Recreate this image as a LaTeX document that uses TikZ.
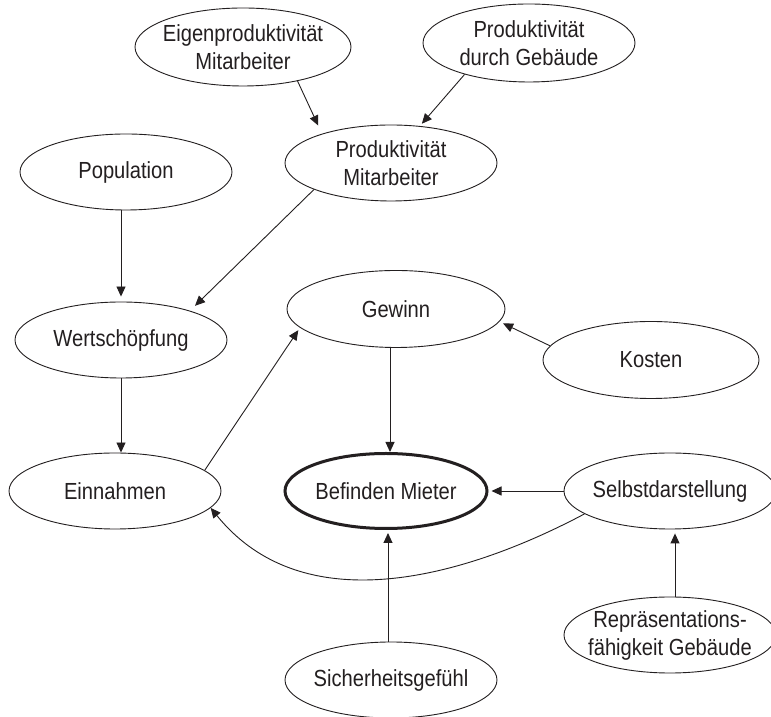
\documentclass[tikz,border=0pt]{standalone}
\usepackage{fontspec}
\setmainfont{Liberation Sans}[FakeStretch=0.865]
\usetikzlibrary{shapes.geometric,arrows.meta,calc}
\definecolor{ink}{HTML}{231F20}
\begin{document}
\begin{tikzpicture}[x=1pt,y=1pt,
  factor/.style={ellipse, draw=ink, line width=0.9pt, inner xsep=-15pt, inner ysep=0pt,
    minimum width=212pt, minimum height=76pt, align=center, text=ink,
    font=\fontsize{23.3}{28}\selectfont},
  core/.style={factor, line width=3pt, minimum width=202pt, minimum height=75pt},
  link/.style={draw=ink, line width=0.9pt, -{Triangle[length=10pt,width=9pt]}}]
\fill[white] (0,0) rectangle (771,717);
\useasboundingbox (0,0) rectangle (771,717);

% factors
\node[factor, minimum width=216pt, minimum height=78pt] (eigen) at (243,670) {Eigenproduktivität\\Mitarbeiter};
\node[factor, minimum height=78pt] (prodgeb) at (529,674) {Produktivität\\durch Gebäude};
\node[factor] (prodmit) at (391,554) {Produktivität\\Mitarbeiter};
\node[factor] (pop) at (126,545) {Population};
\node[factor] (wert) at (121,377) {Wertschöpfung};
\node[factor, minimum width=218pt, minimum height=77pt] (gewinn) at (396,408) {Gewinn};
\node[factor, minimum width=216pt, minimum height=77pt] (kosten) at (651,357) {Kosten};
\node[factor] (einn) at (115,226) {Einnahmen};
\node[core] (befinden) at (386,226) {Befinden Mieter};
\node[factor] (selbst) at (670,226) {Selbstdarstellung};
\node[factor] (repr) at (670,82) {Repräsentations-\\fähigkeit Gebäude};
\node[factor] (sicher) at (391,37) {Sicherheitsgefühl};

% influences
\draw[link, shorten >=9pt] (eigen.-32) -- (prodmit.157);
\draw[link, shorten >=3pt] (prodgeb.206) -- (prodmit.52);
\draw[link, shorten >=5pt] (pop.south -| wert.north) -- (wert.north);
\draw[link, shorten >=7pt] (prodmit.199) -- (wert.23);
\draw[link] (wert.south) -- (wert.south |- einn.north);
\draw[link, shorten >=3pt] (einn.13) -- (gewinn.191);
\draw[link, shorten >=4pt] (kosten.172) -- (gewinn.-7);
\draw[link] ([xshift=-6pt]gewinn.south) -- ([xshift=4pt]befinden.north);
\draw[link, shorten >=3pt] (selbst.west) -- (befinden.east);
\draw[link] (selbst.195) .. controls +(208:113) and +(-51:158) .. (einn.-10);
\draw[link, shorten >=4pt] ([xshift=5pt]repr.north) -- ([xshift=5pt]selbst.south);
\draw[link, shorten >=3pt] ([xshift=-3pt]sicher.north) -- ([xshift=2pt]befinden.south);
\end{tikzpicture}
\end{document}
